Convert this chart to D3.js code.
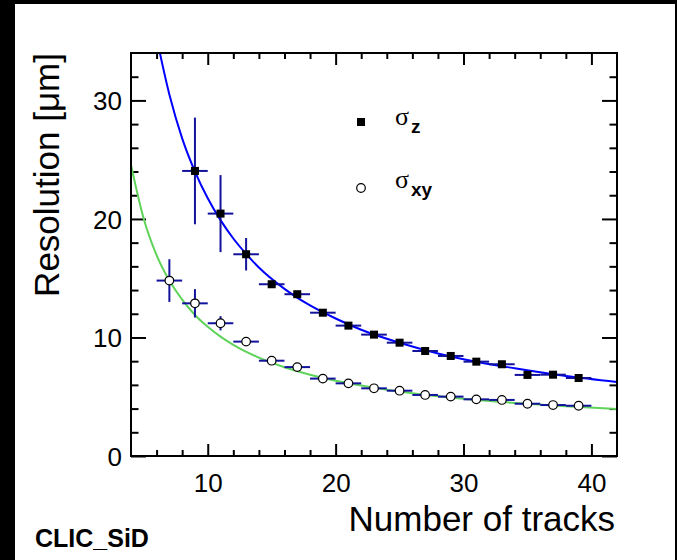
<!DOCTYPE html>
<html><head><meta charset="utf-8">
<script src="https://cdn.jsdelivr.net/npm/d3@7"></script>
<style>html,body{margin:0;padding:0;background:#000;}svg{display:block;}</style>
</head><body>
<script>
// ---- data ----
const nTracksZ = [9, 11, 13, 15, 17, 19, 21, 23, 25, 27, 29, 31, 33, 35, 37, 39];
const sigmaZ    = [24.05, 20.45, 17.02, 14.49, 13.65, 12.09, 11.0, 10.24, 9.56, 8.86, 8.44, 7.96, 7.74, 6.84, 6.86, 6.58];
const sigmaZErr = [4.5, 3.25, 1.37, 0.3, 0.25, 0.2, 0.2, 0.15, 0.15, 0.15, 0.15, 0.15, 0.15, 0.15, 0.15, 0.15];
const nTracksXY = [7, 9, 11, 13, 15, 17, 19, 21, 23, 25, 27, 29, 31, 33, 35, 37, 39];
const sigmaXY    = [14.8, 12.88, 11.2, 9.65, 8.04, 7.5, 6.53, 6.13, 5.71, 5.51, 5.15, 5.01, 4.78, 4.73, 4.41, 4.30, 4.24];
const sigmaXYErr = [1.8, 1.2, 0.6, 0.3, 0.15, 0.15, 0.15, 0.15, 0.15, 0.15, 0.15, 0.15, 0.15, 0.15, 0.15, 0.15, 0.15];
const binHalfWidth = 1;
// fitted curves
const fitZN = [6, 7, 8, 9, 10, 11, 12, 13, 14, 16, 18, 20, 22, 25, 28, 31, 34, 38, 42];
const fitZV = [35.3, 30.5, 26.8, 24.0, 21.75, 19.9, 18.35, 17.05, 15.9, 14.1, 12.7, 11.6, 10.65, 9.55, 8.65, 7.95, 7.4, 6.75, 6.25];
const fitXYN = [4, 5, 6, 7, 8, 9, 10, 11, 12, 14, 16, 18, 20, 23, 26, 30, 34, 38, 42];
const fitXYV = [24.55, 20.0, 16.95, 14.8, 13.2, 11.9, 10.9, 10.07, 9.38, 8.3, 7.49, 6.86, 6.35, 5.76, 5.3, 4.83, 4.48, 4.19, 3.97];
const xMajorTicks = [10, 20, 30, 40];
const yMajorTicks = [0, 10, 20, 30];
const xTitle = "Number of tracks";
const yTitle = "Resolution [\u03bcm]";
const tag = "CLIC_SiD";

// ---- layout ----
const W = 677, H = 560;
const L = 131, R = 617, T = 53, B = 456;
const svg = d3.select("body").append("svg").attr("width", W).attr("height", H);
svg.append("rect").attr("x", 0).attr("y", 0).attr("width", W).attr("height", H).attr("fill", "#000");
svg.append("rect").attr("x", 15).attr("y", 4).attr("width", 660).attr("height", H - 4).attr("fill", "#fff");

const x = d3.scaleLinear().domain([4, 42]).range([L, R]);
const y = d3.scaleLinear().domain([0, 34]).range([B, T]);

svg.append("clipPath").attr("id", "clip").append("rect")
  .attr("x", L).attr("y", T).attr("width", R - L).attr("height", B - T);

const font = "'Liberation Sans', Arial, Helvetica, sans-serif";
const xMinor = d3.range(6, 42, 2).filter(v => v % 10 !== 0);
const yMinor = d3.range(2, 34, 2).filter(v => v % 10 !== 0);

function styleAxis(g) {
  g.select(".domain").remove();
  g.selectAll(".tick line").attr("stroke", "#000").attr("stroke-width", 2);
}
// bottom
svg.append("g").attr("transform", `translate(0,${B})`)
  .call(d3.axisBottom(x).tickValues(xMajorTicks).tickSize(-12).tickSizeOuter(0).tickFormat(d3.format("d")))
  .call(styleAxis)
  .call(g => g.selectAll(".tick text").attr("y", 36).attr("dy", null)
    .attr("font-family", font).attr("font-size", 26).attr("fill", "#000"));
svg.append("g").attr("transform", `translate(0,${B})`)
  .call(d3.axisBottom(x).tickValues(xMinor).tickSize(-6).tickSizeOuter(0).tickFormat(""))
  .call(styleAxis);
// top
svg.append("g").attr("transform", `translate(0,${T})`)
  .call(d3.axisTop(x).tickValues(xMajorTicks).tickSize(-12).tickSizeOuter(0).tickFormat(""))
  .call(styleAxis);
svg.append("g").attr("transform", `translate(0,${T})`)
  .call(d3.axisTop(x).tickValues(xMinor).tickSize(-6).tickSizeOuter(0).tickFormat(""))
  .call(styleAxis);
// left
svg.append("g").attr("transform", `translate(${L},0)`)
  .call(d3.axisLeft(y).tickValues(yMajorTicks).tickSize(-15).tickSizeOuter(0).tickFormat(d3.format("d")))
  .call(styleAxis)
  .call(g => g.selectAll(".tick text").attr("x", -9).attr("dy", "0.36em")
    .attr("font-family", font).attr("font-size", 26).attr("fill", "#000"));
svg.append("g").attr("transform", `translate(${L},0)`)
  .call(d3.axisLeft(y).tickValues(yMinor).tickSize(-7.5).tickSizeOuter(0).tickFormat(""))
  .call(styleAxis);
// right
svg.append("g").attr("transform", `translate(${R},0)`)
  .call(d3.axisRight(y).tickValues(yMajorTicks).tickSize(-15).tickSizeOuter(0).tickFormat(""))
  .call(styleAxis);
svg.append("g").attr("transform", `translate(${R},0)`)
  .call(d3.axisRight(y).tickValues(yMinor).tickSize(-7.5).tickSizeOuter(0).tickFormat(""))
  .call(styleAxis);

// fit curves
const plot = svg.append("g").attr("clip-path", "url(#clip)");
const line = d3.line().x(d => x(d[0])).y(d => y(d[1])).curve(d3.curveMonotoneX);
plot.append("path").datum(fitXYN.map((n, i) => [n, fitXYV[i]]))
  .attr("d", line).attr("fill", "none").attr("stroke", "#5fd35a").attr("stroke-width", 2);
plot.append("path").datum(fitZN.map((n, i) => [n, fitZV[i]]))
  .attr("d", line).attr("fill", "none").attr("stroke", "#0000ff").attr("stroke-width", 2);

// error bars
const errColor = "#12129c";
function errBars(ns, vs, es) {
  const g = plot.append("g").attr("stroke", errColor).attr("stroke-width", 2);
  ns.forEach((n, i) => {
    g.append("line").attr("x1", x(n - binHalfWidth)).attr("x2", x(n + binHalfWidth))
      .attr("y1", y(vs[i])).attr("y2", y(vs[i]));
    g.append("line").attr("x1", x(n)).attr("x2", x(n))
      .attr("y1", y(vs[i] - es[i])).attr("y2", y(vs[i] + es[i]));
  });
}
errBars(nTracksXY, sigmaXY, sigmaXYErr);
errBars(nTracksZ, sigmaZ, sigmaZErr);

// markers
plot.append("g").selectAll("rect").data(nTracksZ).join("rect")
  .attr("x", (d, i) => x(d) - 4).attr("y", (d, i) => y(sigmaZ[i]) - 4)
  .attr("width", 8).attr("height", 8).attr("fill", "#000");
plot.append("g").selectAll("circle").data(nTracksXY).join("circle")
  .attr("cx", d => x(d)).attr("cy", (d, i) => y(sigmaXY[i]))
  .attr("r", 4.3).attr("fill", "#fff").attr("stroke", "#000").attr("stroke-width", 1.2);

// frame
svg.append("rect").attr("x", L).attr("y", T).attr("width", R - L).attr("height", B - T)
  .attr("fill", "none").attr("stroke", "#000").attr("stroke-width", 2);

// legend
const serif = "'Liberation Serif', 'DejaVu Serif', serif";
svg.append("rect").attr("x", 357).attr("y", 118).attr("width", 8).attr("height", 8).attr("fill", "#000");
svg.append("circle").attr("cx", 361).attr("cy", 188).attr("r", 4.3).attr("fill", "#fff").attr("stroke", "#000").attr("stroke-width", 1.2);
function legText(yb, sub) {
  const t = svg.append("text").attr("x", 395).attr("y", yb).attr("fill", "#000");
  t.append("tspan").attr("font-family", serif).attr("font-size", 26).text("\u03c3");
  t.append("tspan").attr("font-family", font).attr("font-weight", "bold").attr("font-size", 19)
    .attr("dy", 8).attr("dx", 2).text(sub);
}
legText(125, "z");
legText(188, "xy");

// titles
svg.append("text").attr("x", 615).attr("y", 531).attr("text-anchor", "end")
  .attr("font-family", font).attr("font-size", 35).attr("fill", "#000").text(xTitle);
svg.append("text").attr("transform", "translate(59,53) rotate(-90)").attr("text-anchor", "end")
  .attr("font-family", font).attr("font-size", 35).attr("fill", "#000").text(yTitle);
svg.append("text").attr("x", 35).attr("y", 547)
  .attr("font-family", font).attr("font-weight", "bold").attr("font-size", 25).attr("fill", "#000").text(tag);
</script>
</body></html>
